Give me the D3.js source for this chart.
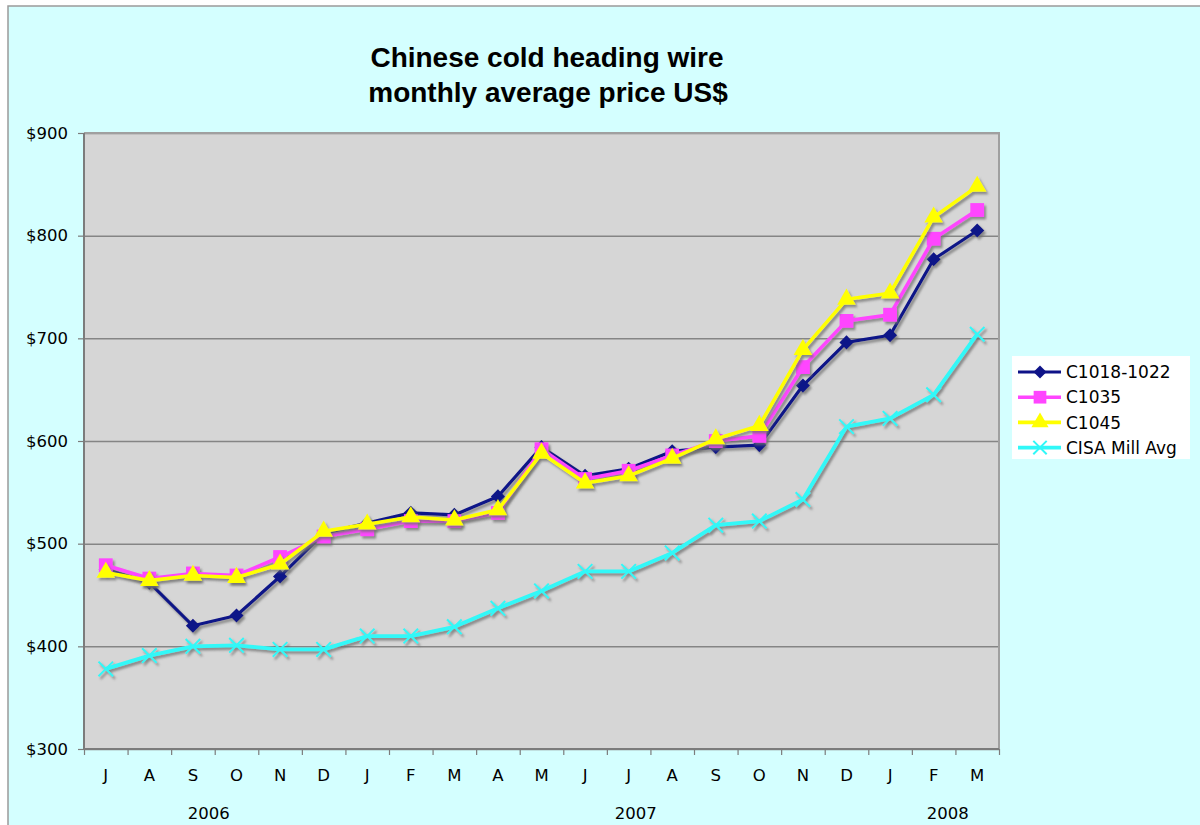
<!DOCTYPE html>
<html>
<head>
<meta charset="utf-8">
<script src="https://cdn.jsdelivr.net/npm/d3@7"></script>
<style>
  body { margin: 0; background: #fff; }
  svg { display: block; }
</style>
</head>
<body>
<div id="chart"></div>
<script>
// monthly categories, Jul 2006 .. Mar 2008
var months = ["J","A","S","O","N","D","J","F","M","A","M","J","J","A","S","O","N","D","J","F","M"];
var years = [
  {label: "2006", from: 0, to: 5},
  {label: "2007", from: 6, to: 17},
  {label: "2008", from: 18, to: 20}
];
var yTicks = [300, 400, 500, 600, 700, 800, 900];

var c1018 = [475, 462, 420, 430, 468, 510, 520, 530, 528, 546, 594, 566, 573, 590, 594, 596, 654, 696, 703, 777, 805];
var c1035 = [479, 466, 471, 469, 487, 507, 514, 522, 522, 530, 592, 563, 571, 586, 600, 605, 672, 717, 723, 797, 825];
var c1045 = [472, 464, 469, 467, 480, 512, 519, 526, 523, 533, 588, 559, 566, 583, 602, 615, 689, 738, 744, 818, 848];
var cisa  = [378, 391, 400, 401, 397, 397, 410, 410, 419, 437, 454, 473, 473, 491, 518, 522, 543, 614, 622, 645, 704];

var seriesNames = ["C1018-1022", "C1035", "C1045", "CISA Mill Avg"];

var W = 1200, H = 825;
var margin = {left: 84, right: 201, top: 133, bottom: 76};
var width = W - margin.left - margin.right,
    height = H - margin.top - margin.bottom;

var svg = d3.select("#chart").append("svg")
  .attr("width", W).attr("height", H)
  .style("font-family", "'DejaVu Sans', Verdana, sans-serif");

// drop shadow like the spreadsheet's
var defs = svg.append("defs");
defs.append("filter").attr("id", "shadow")
  .attr("x", "-10%").attr("y", "-10%").attr("width", "130%").attr("height", "130%")
  .append("feDropShadow")
    .attr("dx", 2).attr("dy", 2.5).attr("stdDeviation", 0.9)
    .attr("flood-color", "#6e6e6e").attr("flood-opacity", 0.75);

// background + frame
svg.append("rect").attr("x", 8).attr("y", 6).attr("width", W).attr("height", H)
  .attr("fill", "#d4ffff").attr("stroke", "#9a9a9a").attr("stroke-width", 1.5);

// title
var title = svg.append("text")
  .attr("text-anchor", "middle")
  .style("font-family", "'Liberation Sans', Arial, sans-serif")
  .style("font-weight", "bold")
  .style("font-size", "28px")
  .attr("fill", "#000");
title.append("tspan").attr("x", 547).attr("y", 67).text("Chinese cold heading wire");
title.append("tspan").attr("x", 548).attr("y", 102).text("monthly average price US$");

var g = svg.append("g").attr("transform", "translate(" + margin.left + "," + margin.top + ")");

var x = d3.scaleBand().domain(d3.range(months.length)).range([0, width]).padding(0);
var xEdge = d3.scaleLinear().domain([0, months.length]).range([0, width]);
var y = d3.scaleLinear().domain([300, 900]).range([height, 0]);

// plot area
g.append("rect").attr("width", width).attr("height", height).attr("fill", "#d6d6d6");

// gridlines
g.append("g")
  .call(d3.axisLeft(y).tickValues(yTicks).tickSize(-width).tickFormat(""))
  .call(s => s.select(".domain").remove())
  .call(s => s.selectAll("line").attr("stroke", "#858585").attr("stroke-width", 1.5));

// plot border: lighter top/right, darker left/bottom
g.append("path").attr("d", "M0,0H" + width + "V" + height)
  .attr("fill", "none").attr("stroke", "#a0a0a0").attr("stroke-width", 2);
g.append("path").attr("d", "M0,0V" + height + "H" + width)
  .attr("fill", "none").attr("stroke", "#7c7c7c").attr("stroke-width", 2);

// y axis
g.append("g")
  .call(d3.axisLeft(y).tickValues(yTicks).tickSize(6).tickPadding(10).tickFormat(d => "$" + d))
  .call(s => s.select(".domain").remove())
  .call(s => s.selectAll("line").attr("stroke", "#7c7c7c").attr("stroke-width", 1.2))
  .call(s => s.selectAll("text").style("font-family", "'DejaVu Sans', Verdana, sans-serif")
     .style("font-size", "16.5px").attr("fill", "#000"));

// x axis: tick marks on category boundaries
g.append("g").attr("transform", "translate(0," + height + ")")
  .call(d3.axisBottom(xEdge).tickValues(d3.range(months.length + 1))
    .tickSize(6).tickFormat(""))
  .call(s => s.select(".domain").remove())
  .call(s => s.selectAll("line").attr("stroke", "#7c7c7c").attr("stroke-width", 1.2));

// x axis: month labels
g.append("g").attr("transform", "translate(0," + height + ")")
  .call(d3.axisBottom(x).tickSize(0).tickPadding(20).tickFormat(i => months[i]))
  .call(s => s.select(".domain").remove())
  .call(s => s.selectAll("text").style("font-family", "'DejaVu Sans', Verdana, sans-serif")
     .style("font-size", "16.5px").attr("fill", "#000"));

// year labels (spreadsheet places them a little off the span centres)
var yearShift = [-6, 29, 14];
g.selectAll(".year").data(years).enter().append("text")
  .attr("class", "year")
  .attr("x", (d, i) => (x(d.from) + x(d.to) + x.bandwidth()) / 2 + yearShift[i])
  .attr("y", height + 70)
  .attr("text-anchor", "middle")
  .style("font-size", "16.5px")
  .attr("fill", "#000")
  .text(d => d.label);

// series
var xPos = i => x(i) + x.bandwidth() / 2;
var line = d3.line().x((d, i) => xPos(i)).y(d => y(d));

var diamond = {draw: (ctx, size) => { var r = Math.sqrt(size) / 2;
  ctx.moveTo(0, -r); ctx.lineTo(r, 0); ctx.lineTo(0, r); ctx.lineTo(-r, 0); ctx.closePath(); }};

var series = [
  {name: seriesNames[0], values: c1018, color: "#0e1388", width: 3.2, symbol: diamond, size: 200, fill: true},
  {name: seriesNames[1], values: c1035, color: "#ff45ff", width: 3.6, symbol: d3.symbolSquare, size: 190, fill: true},
  {name: seriesNames[2], values: c1045, color: "#ffff00", width: 3.6, symbol: d3.symbolTriangle, size: 150, fill: true},
  {name: seriesNames[3], values: cisa, color: "#30f8f8", width: 3.8, symbol: d3.symbolTimes, size: 140, fill: false}
];

series.forEach(s => {
  var sg = g.append("g").attr("filter", "url(#shadow)");
  sg.append("path").datum(s.values)
    .attr("fill", "none").attr("stroke", s.color).attr("stroke-width", s.width)
    .attr("stroke-linejoin", "round")
    .attr("d", line);
  sg.selectAll(".pt").data(s.values).enter().append("path")
    .attr("transform", (d, i) => "translate(" + xPos(i) + "," + y(d) + ")")
    .attr("d", d3.symbol(s.symbol, s.size))
    .attr("fill", s.fill ? s.color : "none")
    .attr("stroke", s.fill ? "none" : s.color)
    .attr("stroke-width", s.fill ? 0 : 2);
});

// legend
var lg = svg.append("g").attr("transform", "translate(1012,356)");
lg.append("rect").attr("width", 178).attr("height", 103).attr("fill", "#fff");
series.forEach((s, i) => {
  var row = lg.append("g").attr("transform", "translate(0," + (16 + i * 25.2) + ")");
  row.append("line").attr("x1", 6).attr("x2", 49)
    .attr("stroke", s.color).attr("stroke-width", s.width);
  row.append("path").attr("transform", "translate(28,0)")
    .attr("d", d3.symbol(s.symbol, s.size * 0.85))
    .attr("fill", s.fill ? s.color : "none")
    .attr("stroke", s.fill ? "none" : s.color)
    .attr("stroke-width", s.fill ? 0 : 2);
  row.append("text").attr("x", 54).attr("dy", "0.36em")
    .style("font-size", "17px").attr("fill", "#000")
    .text(s.name);
});
</script>
</body>
</html>
